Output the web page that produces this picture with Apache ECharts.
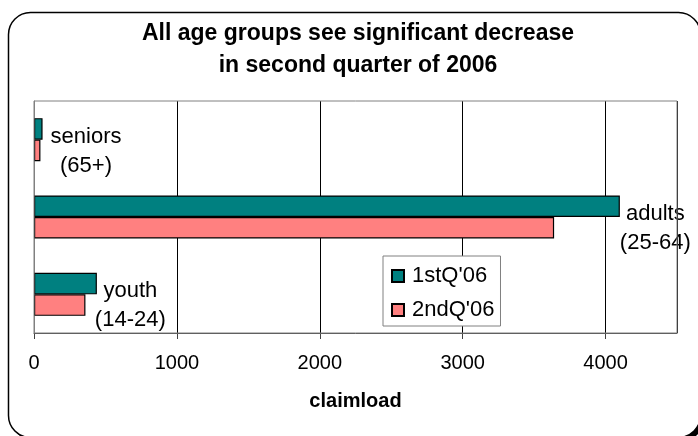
<!DOCTYPE html>
<html>
<head>
<meta charset="utf-8">
<script src="https://cdn.jsdelivr.net/npm/echarts@6/dist/echarts.min.js"></script>
<style>
  html, body { margin: 0; padding: 0; background: #fff; }
  #chart { width: 698px; height: 436px; }
</style>
</head>
<body>
<div id="chart"></div>
<script>
// Age groups, top to bottom
var groups = ['seniors', 'adults', 'youth'];
var ageRanges = ['(65+)', '(25-64)', '(14-24)'];
// Claimload per quarter
var q1Values = [60, 4100, 440];
var q2Values = [45, 3640, 360];
var seriesNames = ["1stQ'06", "2ndQ'06"];
// Axis ticks
var xMin = 0, xMax = 4500, xStep = 1000;

var FONT = '"Liberation Sans", Arial, sans-serif';

// Label nudges for each group's caption (beside the 1st-quarter bar)
var labelNudge = [[8, 23], [0, 22.5], [-2, 22]];

var chart = echarts.init(document.getElementById('chart'), null, { renderer: 'canvas' });

var q1Data = q1Values.map(function (v, i) {
  return {
    value: v,
    label: {
      show: true,
      position: 'right',
      distance: 0,
      offset: labelNudge[i],
      formatter: '{c|' + groups[i] + '}\n{c|' + ageRanges[i] + '}',
      rich: {
        c: { align: 'center', fontFamily: FONT, fontSize: 22, lineHeight: 29, color: '#000' }
      }
    }
  };
});

chart.setOption({
  animation: false,
  backgroundColor: 'transparent',
  graphic: [
    {
      type: 'rect', z: -10, silent: true,
      shape: { x: 12, y: 16, width: 692, height: 425, r: 22 },
      style: { fill: '#000' }
    },
    {
      type: 'rect', z: -9, silent: true,
      shape: { x: 8.5, y: 12.5, width: 692, height: 425, r: 22 },
      style: { fill: '#fff', stroke: '#000', lineWidth: 1.5 }
    }
  ],
  title: {
    text: 'All age groups see significant decrease\nin second quarter of 2006',
    left: 358,
    top: 18,
    padding: 0,
    textAlign: 'center',
    textStyle: { fontFamily: FONT, fontSize: 23, fontWeight: 'bold', lineHeight: 32, color: '#000' }
  },
  legend: {
    data: seriesNames,
    orient: 'vertical',
    left: 383,
    top: 256,
    padding: [9, 6, 5, 8],
    itemWidth: 12,
    itemHeight: 12,
    itemGap: 12,
    icon: 'rect',
    backgroundColor: '#fff',
    borderColor: '#808080',
    borderWidth: 1,
    borderRadius: 0,
    textStyle: { fontFamily: FONT, fontSize: 22, lineHeight: 22, color: '#000', padding: [0, 0, 0, 3] }
  },
  grid: {
    left: 34, right: 21, top: 101, bottom: 103,
    show: true, z: 3,
    borderColor: '#808080', borderWidth: 1,
    backgroundColor: 'transparent'
  },
  xAxis: {
    type: 'value',
    min: xMin, max: xMax, interval: xStep,
    name: 'claimload',
    nameLocation: 'middle',
    nameGap: 58,
    nameTextStyle: { fontFamily: FONT, fontSize: 20, fontWeight: 'bold', color: '#000' },
    axisLine: { show: true, lineStyle: { color: '#404040', width: 1 } },
    axisTick: { show: true, length: 6, lineStyle: { color: '#404040' } },
    axisLabel: {
      margin: 20, showMaxLabel: false, fontFamily: FONT, fontSize: 20, color: '#000',
      formatter: function (v) { return String(v); }
    },
    splitLine: { show: true, lineStyle: { color: '#000', width: 1 } }
  },
  yAxis: {
    type: 'category',
    data: groups,
    inverse: true,
    axisLine: { show: true, lineStyle: { color: '#808080' } },
    axisTick: { show: false },
    axisLabel: { show: false },
    splitLine: { show: false }
  },
  series: [
    {
      name: seriesNames[0],
      type: 'bar',
      data: q1Data,
      barWidth: 21.5,
      barGap: '0%',
      itemStyle: { color: '#008080', borderColor: '#000', borderWidth: 1.2 }
    },
    {
      name: seriesNames[1],
      type: 'bar',
      data: q2Values,
      barWidth: 21.5,
      barGap: '0%',
      itemStyle: { color: '#FF8080', borderColor: '#000', borderWidth: 1.2 }
    }
  ]
});
</script>
</body>
</html>
